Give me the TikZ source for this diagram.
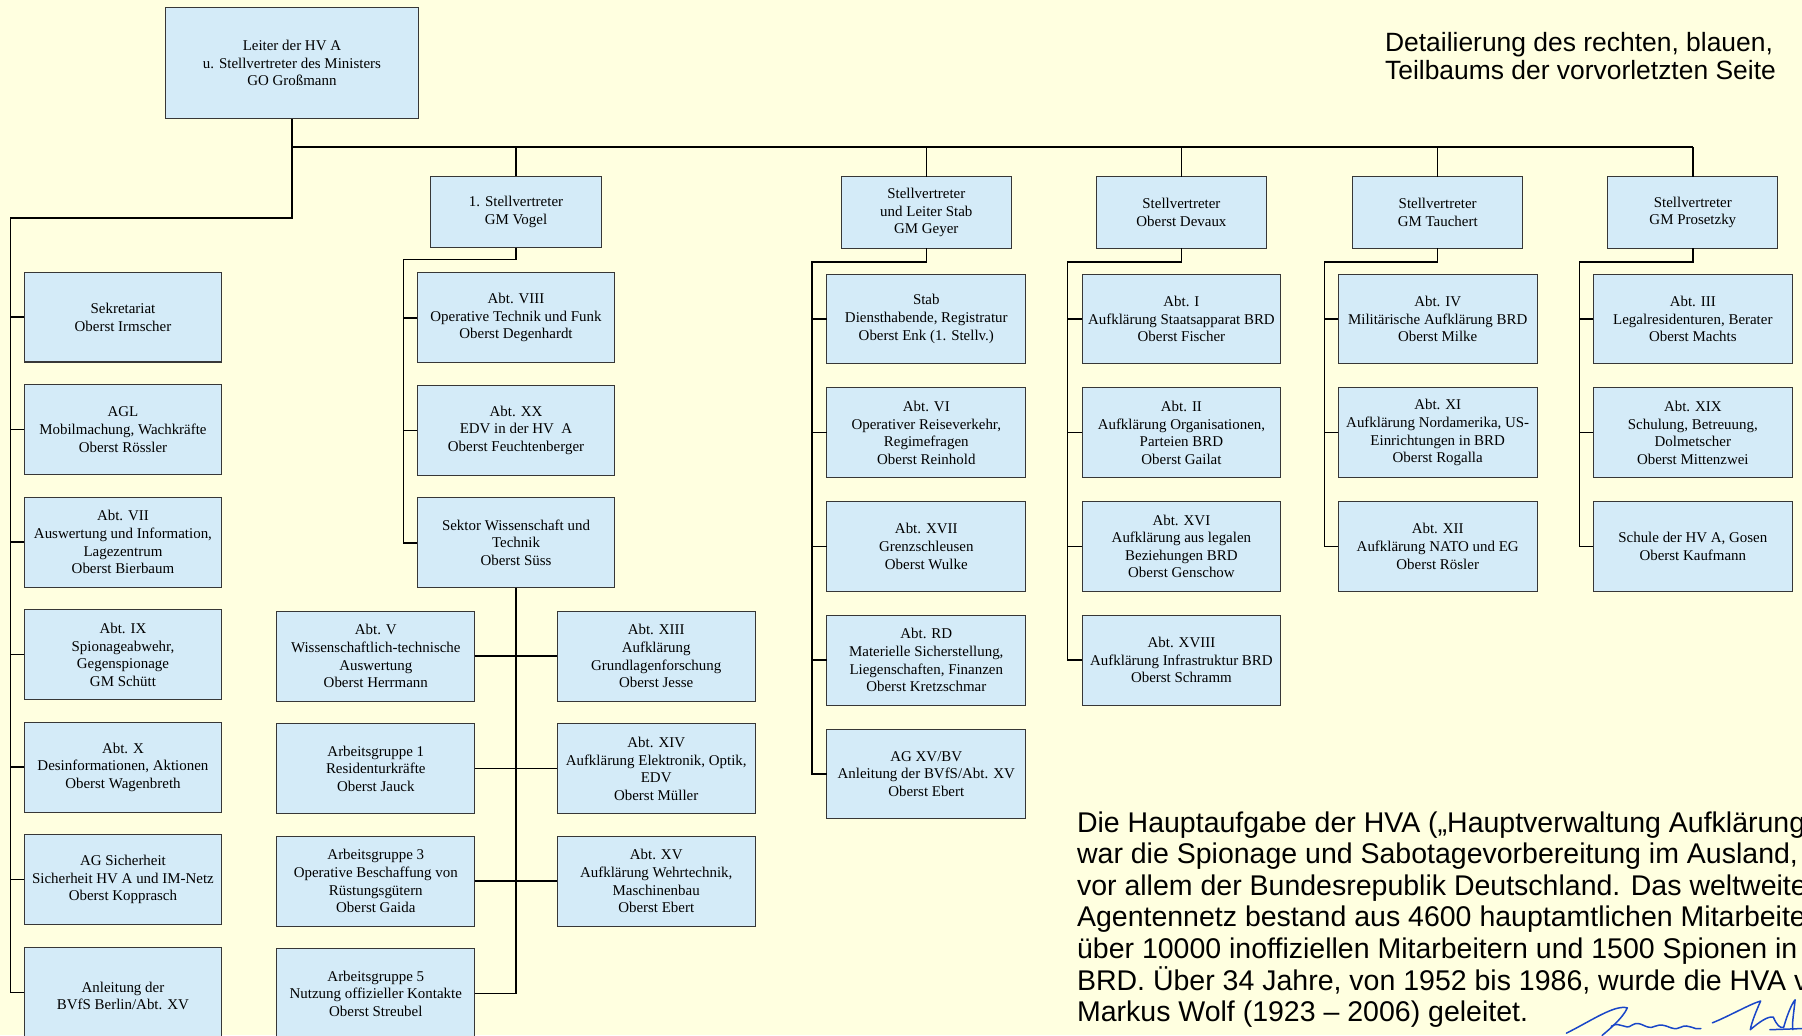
\documentclass[tikz,border=0pt]{standalone}
\usepackage{fontspec}
\setmainfont{Liberation Serif}
\newfontfamily\hvasans{Liberation Sans}
\usetikzlibrary{positioning}

\definecolor{paper}{RGB}{255,255,224}
\definecolor{boxblue}{RGB}{212,235,248}
\definecolor{boxline}{RGB}{55,55,55}
\definecolor{inkblue}{RGB}{25,70,200}

\begin{document}
\begin{tikzpicture}
  [x=1pt, y=1pt,
   unit/.style={rectangle, draw=boxline, fill=boxblue, line width=0.9pt,
     align=center, minimum width=173pt, minimum height=78pt,
     inner sep=2pt, outer sep=0pt,
     font=\fontsize{13}{15.3}\selectfont},
   head/.style={unit, minimum width=148pt, minimum height=62pt},
   link/.style={line width=1.3pt},
   prose/.style={align=left, inner sep=0pt, anchor=base west,
     font=\hvasans\fontsize{24.8}{27.5}\selectfont},
   sig/.style={draw=inkblue, line width=1.3pt, line cap=round, line join=round}]

  \fill[paper] (0,0) rectangle (1568,-901);
  \useasboundingbox (0,0) rectangle (1568,-901);

  % Leitung und Stellvertreter
  \node[unit, minimum width=220pt, minimum height=97pt] (leiter) at (254,-55)
    {Leiter der HV A\\u. Stellvertreter des Ministers\\GO Großmann};
  \node[head] (vogel) at (449,-184.5) {1. Stellvertreter\\GM Vogel};
  \node[head] (geyer) at (806,-185) {Stellvertreter\\und Leiter Stab\\GM Geyer};
  \node[head] (devaux) at (1028,-185) {Stellvertreter\\Oberst Devaux};
  \node[head] (tauchert) at (1251,-185) {Stellvertreter\\GM Tauchert};
  \node[head] (prosetzky) at (1473,-185) {Stellvertreter\\GM Prosetzky};

  % direkt dem Leiter unterstellt
  \node[unit, minimum width=172pt] (sekr) at (107,-276) {Sekretariat\\Oberst Irmscher};
  \node[unit, minimum width=172pt, below=19.9pt of sekr] (agl)
    {AGL\\Mobilmachung, Wachkräfte\\Oberst Rössler};
  \node[unit, minimum width=172pt, below=19.9pt of agl] (abtvii)
    {Abt. VII\\Auswertung und Information,\\Lagezentrum\\Oberst Bierbaum};
  \node[unit, minimum width=172pt, below=19.9pt of abtvii] (abtix)
    {Abt. IX\\Spionageabwehr,\\Gegenspionage\\GM Schütt};
  \node[unit, minimum width=172pt, below=19.9pt of abtix] (abtx)
    {Abt. X\\Desinformationen, Aktionen\\Oberst Wagenbreth};
  \node[unit, minimum width=172pt, below=19.9pt of abtx] (agsich)
    {AG Sicherheit\\Sicherheit HV A und IM-Netz\\Oberst Kopprasch};
  \node[unit, minimum width=172pt, below=19.9pt of agsich] (bvfs)
    {\mbox{}\\Anleitung der\\BVfS Berlin/Abt. XV};

  % 1. Stellvertreter
  \node[unit, minimum width=172pt, below=22pt of vogel] (abtviii)
    {Abt. VIII\\Operative Technik und Funk\\Oberst Degenhardt};
  \node[unit, minimum width=172pt, below=19.9pt of abtviii] (abtxx)
    {Abt. XX\\EDV in der HV~~A\\Oberst Feuchtenberger};
  \node[unit, minimum width=172pt, below=19.9pt of abtxx] (sektor)
    {Sektor Wissenschaft und\\Technik\\Oberst Süss};
  \node[unit, minimum width=172pt] (abtv) at (327,-571)
    {Abt. V\\Wissenschaftlich-technische\\Auswertung\\Oberst Herrmann};
  \node[unit, minimum width=172pt, below=19.9pt of abtv] (ag1)
    {Arbeitsgruppe 1\\Residenturkräfte\\Oberst Jauck};
  \node[unit, minimum width=172pt, below=19.9pt of ag1] (ag3)
    {Arbeitsgruppe 3\\Operative Beschaffung von\\Rüstungsgütern\\Oberst Gaida};
  \node[unit, minimum width=172pt, below=19.9pt of ag3] (ag5)
    {Arbeitsgruppe 5\\Nutzung offizieller Kontakte\\Oberst Streubel};
  \node[unit, minimum width=172pt, right=72pt of abtv] (abtxiii)
    {Abt. XIII\\Aufklärung\\Grundlagenforschung\\Oberst Jesse};
  \node[unit, minimum width=172pt, below=19.9pt of abtxiii] (abtxiv)
    {Abt. XIV\\Aufklärung Elektronik, Optik,\\EDV\\Oberst Müller};
  \node[unit, minimum width=172pt, below=19.9pt of abtxiv] (abtxv)
    {Abt. XV\\Aufklärung Wehrtechnik,\\Maschinenbau\\Oberst Ebert};

  % Stellvertreter und Leiter Stab
  \node[unit, below=22.5pt of geyer] (stab)
    {Stab\\Diensthabende, Registratur\\Oberst Enk (1. Stellv.)};
  \node[unit, below=21pt of stab] (abtvi)
    {Abt. VI\\Operativer Reiseverkehr,\\Regimefragen\\Oberst Reinhold};
  \node[unit, below=21pt of abtvi] (abtxvii)
    {Abt. XVII\\Grenzschleusen\\Oberst Wulke};
  \node[unit, below=21pt of abtxvii] (abtrd)
    {Abt. RD\\Materielle Sicherstellung,\\Liegenschaften, Finanzen\\Oberst Kretzschmar};
  \node[unit, below=21pt of abtrd] (agxv)
    {AG XV/BV\\Anleitung der BVfS/Abt. XV\\Oberst Ebert};

  % Stellvertreter Devaux
  \node[unit, below=22.5pt of devaux] (abti)
    {Abt. I\\Aufklärung Staatsapparat BRD\\Oberst Fischer};
  \node[unit, below=21pt of abti] (abtii)
    {Abt. II\\Aufklärung Organisationen,\\Parteien BRD\\Oberst Gailat};
  \node[unit, below=21pt of abtii] (abtxvi)
    {Abt. XVI\\Aufklärung aus legalen\\Beziehungen BRD\\Oberst Genschow};
  \node[unit, below=21pt of abtxvi] (abtxviii)
    {Abt. XVIII\\Aufklärung Infrastruktur BRD\\Oberst Schramm};

  % Stellvertreter Tauchert
  \node[unit, below=22.5pt of tauchert] (abtiv)
    {Abt. IV\\Militärische Aufklärung BRD\\Oberst Milke};
  \node[unit, below=21pt of abtiv] (abtxi)
    {Abt. XI\\Aufklärung Nordamerika, US-\\Einrichtungen in BRD\\Oberst Rogalla};
  \node[unit, below=21pt of abtxi] (abtxii)
    {Abt. XII\\Aufklärung NATO und EG\\Oberst Rösler};

  % Stellvertreter Prosetzky
  \node[unit, below=22.5pt of prosetzky] (abtiii)
    {Abt. III\\Legalresidenturen, Berater\\Oberst Machts};
  \node[unit, below=21pt of abtiii] (abtxix)
    {Abt. XIX\\Schulung, Betreuung,\\Dolmetscher\\Oberst Mittenzwei};
  \node[unit, below=21pt of abtxix] (schule)
    {Schule der HV A, Gosen\\Oberst Kaufmann};

  % Verbindungen
  \coordinate (bus) at (0,-128);
  \draw[link] (leiter.south |- bus) -- (prosetzky.north |- bus);
  \foreach \h in {vogel,geyer,devaux,tauchert,prosetzky}
    \draw[link] (\h.north) -- (\h.north |- bus);

  \draw[link] (leiter.south) -- ++(0,-86) -| ([xshift=-12pt]bvfs.west) -- (bvfs.west);
  \foreach \b in {sekr,agl,abtvii,abtix,abtx,agsich}
    \draw[link] (\b.west) -- ++(-12,0);

  \draw[link] (vogel.south) -- ++(0,-10.5) -| ([xshift=-12pt]sektor.west) -- (sektor.west);
  \foreach \b in {abtviii,abtxx}
    \draw[link] (\b.west) -- ++(-12,0);
  \draw[link] (sektor.south) |- (ag5.east);
  \draw[link] (abtv.east) -- (abtxiii.west);
  \draw[link] (ag1.east) -- (abtxiv.west);
  \draw[link] (ag3.east) -- (abtxv.west);

  \draw[link] (geyer.south) -- ++(0,-12) -| ([xshift=-13pt]agxv.west) -- (agxv.west);
  \foreach \b in {stab,abtvi,abtxvii,abtrd}
    \draw[link] (\b.west) -- ++(-13,0);

  \draw[link] (devaux.south) -- ++(0,-12) -| ([xshift=-12.5pt]abtxviii.west) -- (abtxviii.west);
  \foreach \b in {abti,abtii,abtxvi}
    \draw[link] (\b.west) -- ++(-12.5,0);

  \draw[link] (tauchert.south) -- ++(0,-12) -| ([xshift=-12pt]abtxii.west) -- (abtxii.west);
  \foreach \b in {abtiv,abtxi}
    \draw[link] (\b.west) -- ++(-12,0);

  \draw[link] (prosetzky.south) -- ++(0,-12) -| ([xshift=-12pt]schule.west) -- (schule.west);
  \foreach \b in {abtiii,abtxix}
    \draw[link] (\b.west) -- ++(-12,0);

  % Texte (base = Grundlinie der letzten Zeile)
  \node[prose, font=\hvasans\fontsize{23}{25}\selectfont] (caption) at (1205,-69.5)
    {Detailierung des rechten, blauen,\\Teilbaums der vorvorletzten Seite};
  \node[prose] (about) at (937,-889)
    {Die Hauptaufgabe der HVA („Hauptverwaltung Aufklärung“)\\
     war die Spionage und Sabotagevorbereitung im Ausland,\\
     vor allem der Bundesrepublik Deutschland. Das weltweite\\
     Agentennetz bestand aus 4600 hauptamtlichen Mitarbeitern,\\
     über 10000 inoffiziellen Mitarbeitern und 1500 Spionen in der\\
     BRD. Über 34 Jahre, von 1952 bis 1986, wurde die HVA von\\
     Markus Wolf (1923 – 2006) geleitet.};

  % Unterschrift
  \draw[sig] (1363,-899) .. controls (1385,-888) and (1405,-874) .. (1416,-877)
    .. controls (1412,-886) and (1400,-896) .. (1394,-901);
  \draw[sig] (1402,-893) .. controls (1410,-888) and (1414,-897) .. (1420,-892)
    .. controls (1428,-887) and (1432,-897) .. (1440,-893)
    .. controls (1450,-889) and (1454,-898) .. (1462,-894)
    .. controls (1470,-890) and (1474,-897) .. (1480,-895);
  \draw[sig] (1490,-890) .. controls (1505,-884) and (1522,-874) .. (1532,-871)
    .. controls (1528,-880) and (1524,-890) .. (1523,-896)
    .. controls (1530,-890) and (1538,-884) .. (1543,-885)
    .. controls (1546,-892) and (1549,-895) .. (1552,-894)
    .. controls (1556,-880) and (1560,-872) .. (1562,-870)
    .. controls (1561,-880) and (1559,-892) .. (1560,-896);
  \draw[sig] (1540,-896) -- (1568,-895);
\end{tikzpicture}
\end{document}
